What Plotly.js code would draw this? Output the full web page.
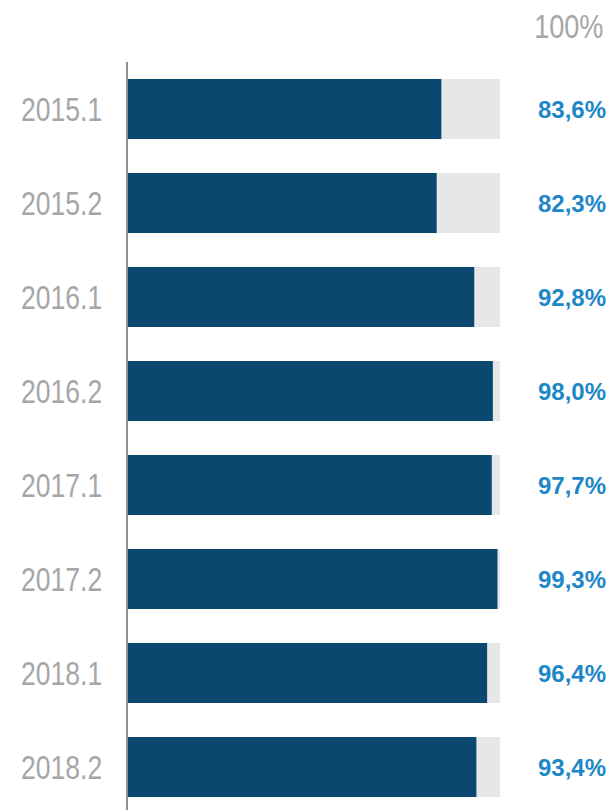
<!DOCTYPE html>
<html>
<head>
<meta charset="utf-8">
<script src="https://cdn.plot.ly/plotly-3.0.1.min.js"></script>
<style>
  html, body { margin: 0; padding: 0; background: #ffffff; }
  #chart { width: 613px; height: 810px; }
</style>
</head>
<body>
<div id="chart"></div>
<script>
// ---- Data ----
const categories = ["2015.1", "2015.2", "2016.1", "2016.2", "2017.1", "2017.2", "2018.1", "2018.2"];
const values = [83.6, 82.3, 92.8, 98.0, 97.7, 99.3, 96.4, 93.4];
const fullValues = [100, 100, 100, 100, 100, 100, 100, 100];
const topLabel = "100%";

// ---- Style ----
const AXIS_START = -4;
const DARK = "#0a4870";
const LIGHT = "#e6e7e9";
const GREY_TEXT = "#a6a6a8";
const BLUE_TEXT = "#1e87c8";
const SANS = "'Liberation Sans', Arial, Helvetica, sans-serif";
const CONDENSE = 0.78;

const fmt = v => v.toFixed(1).replace(".", ",") + "%";

const traces = [
  {
    type: "bar",
    orientation: "h",
    y: categories,
    x: fullValues.map(v => v - AXIS_START),
    base: AXIS_START,
    width: 0.64,
    marker: { color: LIGHT },
    hoverinfo: "skip",
    showlegend: false
  },
  {
    type: "bar",
    orientation: "h",
    y: categories,
    x: values.map(v => v - AXIS_START),
    base: AXIS_START,
    width: 0.64,
    marker: { color: DARK },
    customdata: values,
    hovertemplate: "%{y}: %{customdata}%<extra></extra>",
    showlegend: false
  }
];

const annotations = categories.map((c, i) => ({
  xref: "paper", yref: "y",
  x: 1.29, y: i,
  xanchor: "right", yanchor: "middle",
  text: "<b>" + fmt(values[i]) + "</b>",
  showarrow: false,
  font: { family: SANS, size: 24, color: BLUE_TEXT }
}));
annotations.push({
  xref: "paper", yref: "paper",
  x: 1.282, y: 1.047,
  xanchor: "right", yanchor: "middle",
  text: topLabel,
  showarrow: false,
  font: { family: SANS, size: 33, color: GREY_TEXT }
});

const layout = {
  width: 613,
  height: 810,
  margin: { l: 128, r: 113, t: 62, b: 0, pad: 0 },
  paper_bgcolor: "#ffffff",
  plot_bgcolor: "#ffffff",
  barmode: "overlay",
  xaxis: {
    range: [AXIS_START, 100],
    showgrid: false,
    zeroline: false,
    showticklabels: false,
    showline: false,
    fixedrange: true
  },
  yaxis: {
    type: "category",
    categoryorder: "array",
    categoryarray: categories,
    range: [7.457, -0.5],
    showgrid: false,
    zeroline: false,
    showline: true,
    linecolor: "#8e8e90",
    linewidth: 2,
    ticks: "outside",
    ticklen: 17,
    tickcolor: "rgba(0,0,0,0)",
    tickfont: { family: SANS, size: 34, color: GREY_TEXT },
    fixedrange: true
  },
  annotations: annotations
};

function condense(t, k) {
  const b0 = t.getBBox();
  const right0 = b0.x + b0.width;
  t.setAttribute("textLength", (t.getComputedTextLength() * k).toFixed(2));
  t.setAttribute("lengthAdjust", "spacingAndGlyphs");
  const b1 = t.getBBox();
  const shift = right0 - (b1.x + b1.width);
  const x = parseFloat(t.getAttribute("x") || "0");
  t.setAttribute("x", (x + shift).toFixed(2));
}

Plotly.newPlot("chart", traces, layout, { displayModeBar: false, staticPlot: true }).then(gd => {
  gd.querySelectorAll(".ytick text").forEach(t => condense(t, CONDENSE));
  gd.querySelectorAll(".annotation-text").forEach(t => {
    if (t.textContent === topLabel) condense(t, 0.82);
  });
});
</script>
</body>
</html>
